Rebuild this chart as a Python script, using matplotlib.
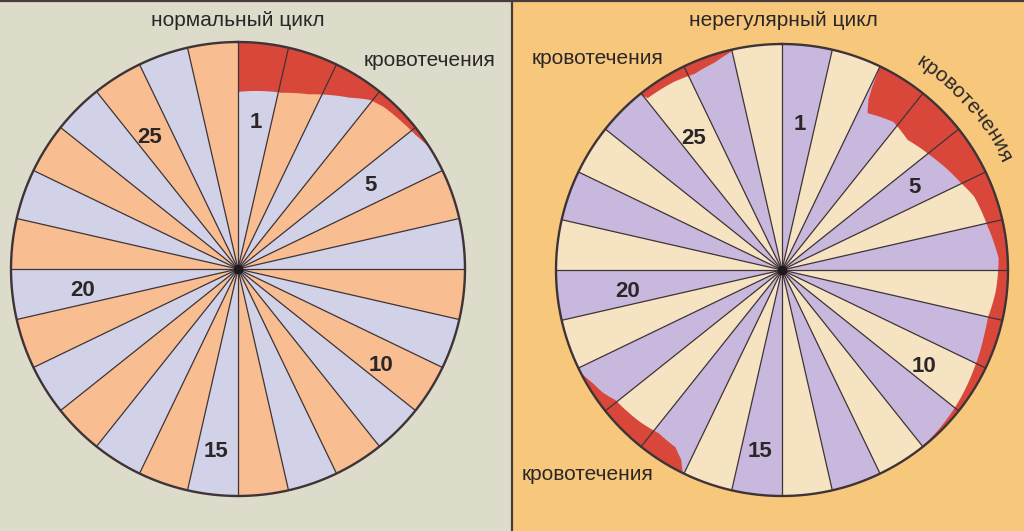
import numpy as np
import matplotlib
matplotlib.use('Agg')
import matplotlib.pyplot as plt
from matplotlib.patches import Polygon, Rectangle
from matplotlib.font_manager import FontProperties
from matplotlib.textpath import text_to_path

# --- data ---
n_days = 28
titles = ['нормальный цикл', 'нерегулярный цикл']
bleed_word = 'кровотечения'

day_labels = ['1', '5', '10', '15', '20', '25']
label_angle = [7, 58, 124, 187, 262, 326]          # clockwise from top, degrees
label_rad = [0.65, 0.69, 0.76, 0.81, 0.69, 0.70]  # fraction of radius

# bleeding zones: angle (clockwise from top) and inner edge as fraction of radius
normal_ang = [0, 7, 14, 22, 26, 33, 38, 42, 48, 53, 58]
normal_in = [0.78, 0.79, 0.80, 0.83, 0.855, 0.90, 0.945, 0.96, 0.97, 0.98, 1.0]

irr_a_ang = [25.7, 26.5, 28.5, 37, 44, 52.6, 64, 69, 78, 87, 96, 103, 108, 117, 127, 136, 143]
irr_a_in = [1.0, 0.86, 0.79, 0.82, 0.80, 0.83, 0.88, 0.91, 0.93, 0.96, 0.95, 0.935, 0.94, 0.955, 0.975, 0.99, 1.0]

irr_b_ang = [206, 208, 211, 217, 223, 232, 235.5, 239, 243]
irr_b_in = [1.0, 0.95, 0.915, 0.905, 0.92, 0.935, 0.96, 0.975, 1.0]

irr_c_ang = [321, 322, 330, 336, 342, 348.5]
irr_c_in = [1.0, 0.965, 0.96, 0.95, 0.965, 1.0]

# --- styles ---
bg_left = '#dddbc9'
bg_right = '#f7c87c'
col_left = ['#d1d2e7', '#f8bd91']
col_right = ['#c9b8dd', '#f5e3c1']
red = '#d9473a'
line_col = '#3e3337'
txt_col = '#2b2728'

fig = plt.figure(figsize=(10.24, 5.31), dpi=100)
ax = fig.add_axes([0, 0, 1, 1])
ax.set_xlim(0, 1024)
ax.set_ylim(531, 0)
ax.axis('off')

ax.add_patch(Rectangle((0, 0), 512, 531, color=bg_left, zorder=0))
ax.add_patch(Rectangle((512, 0), 512, 531, color=bg_right, zorder=0))
ax.plot([512, 512], [0, 531], color='#4a3c3c', lw=1.6, zorder=1)
ax.plot([0, 1024], [0.8, 0.8], color='#4a3c3c', lw=1.6, zorder=1)


def pt(cx, cy, r, deg):
    t = np.radians(deg)
    return cx + r * np.sin(t), cy - r * np.cos(t)


def draw_wheel(cx, cy, R, cols):
    step = 360 / n_days
    for i in range(n_days):
        a = np.linspace(i * step, (i + 1) * step, 20)
        xs, ys = pt(cx, cy, R, a)
        verts = [(cx, cy)] + list(zip(xs, ys))
        ax.add_patch(Polygon(verts, closed=True, facecolor=cols[i % 2], edgecolor='none', zorder=2))


def draw_bleed(cx, cy, R, ang, frac):
    a = np.linspace(ang[0], ang[-1], 200)
    f = np.interp(a, ang, frac)
    ox, oy = pt(cx, cy, R, a)
    ix, iy = pt(cx, cy, R * f, a)
    verts = list(zip(ox, oy)) + list(zip(ix[::-1], iy[::-1]))
    ax.add_patch(Polygon(verts, closed=True, facecolor=red, edgecolor='none', zorder=3))


def draw_lines(cx, cy, R):
    step = 360 / n_days
    for i in range(n_days):
        x, y = pt(cx, cy, R, i * step)
        ax.plot([cx, x], [cy, y], color=line_col, lw=0.9, zorder=4)
    a = np.linspace(0, 360, 400)
    xs, ys = pt(cx, cy, R, a)
    ax.plot(xs, ys, color=line_col, lw=1.7, zorder=5)
    ax.plot(cx, cy, 'o', color='#1e1a1c', ms=6, zorder=5)


def draw_labels(cx, cy, R):
    for s, ang, fr in zip(day_labels, label_angle, label_rad):
        x, y = pt(cx, cy, R * fr, ang)
        ax.text(x, y, s, ha='center', va='center', fontsize=16, fontweight='bold',
                family='Liberation Sans', color=txt_col, zorder=6)


def arc_text(cx, cy, r, mid_deg, s, size):
    fp = FontProperties(family='Liberation Sans', size=size)
    widths = [text_to_path.get_text_width_height_descent(ch, fp, ismath=False)[0] * 100 / 72 for ch in s]
    theta = np.radians(mid_deg) - sum(widths) / 2 / r
    for ch, w in zip(s, widths):
        t = theta + w / 2 / r
        x, y = cx + r * np.sin(t), cy - r * np.cos(t)
        ax.text(x, y, ch, rotation=-np.degrees(t), rotation_mode='anchor', ha='center',
                va='baseline', fontproperties=fp, color=txt_col, zorder=6)
        theta += w / r


# left wheel: normal cycle
lcx, lcy, lR = 238, 269, 227
draw_wheel(lcx, lcy, lR, col_left)
draw_bleed(lcx, lcy, lR, normal_ang, normal_in)
draw_lines(lcx, lcy, lR)
draw_labels(lcx, lcy, lR)

# right wheel: irregular cycle
rcx, rcy, rR = 782, 270, 226
draw_wheel(rcx, rcy, rR, col_right)
draw_bleed(rcx, rcy, rR, irr_a_ang, irr_a_in)
draw_bleed(rcx, rcy, rR, irr_b_ang, irr_b_in)
draw_bleed(rcx, rcy, rR, irr_c_ang, irr_c_in)
draw_lines(rcx, rcy, rR)
draw_labels(rcx, rcy, rR)

tkw = dict(ha='center', va='center', fontsize=15, family='Liberation Sans', color=txt_col, zorder=6)
ax.text(238, 20, titles[0], **tkw)
ax.text(783, 20, titles[1], **tkw)
ax.text(430, 60, bleed_word, **tkw)
ax.text(598, 58, bleed_word, **tkw)
ax.text(588, 475, bleed_word, **tkw)
arc_text(rcx, rcy, 245, 48.5, bleed_word, 15)

fig.savefig('out.png', dpi=100)
